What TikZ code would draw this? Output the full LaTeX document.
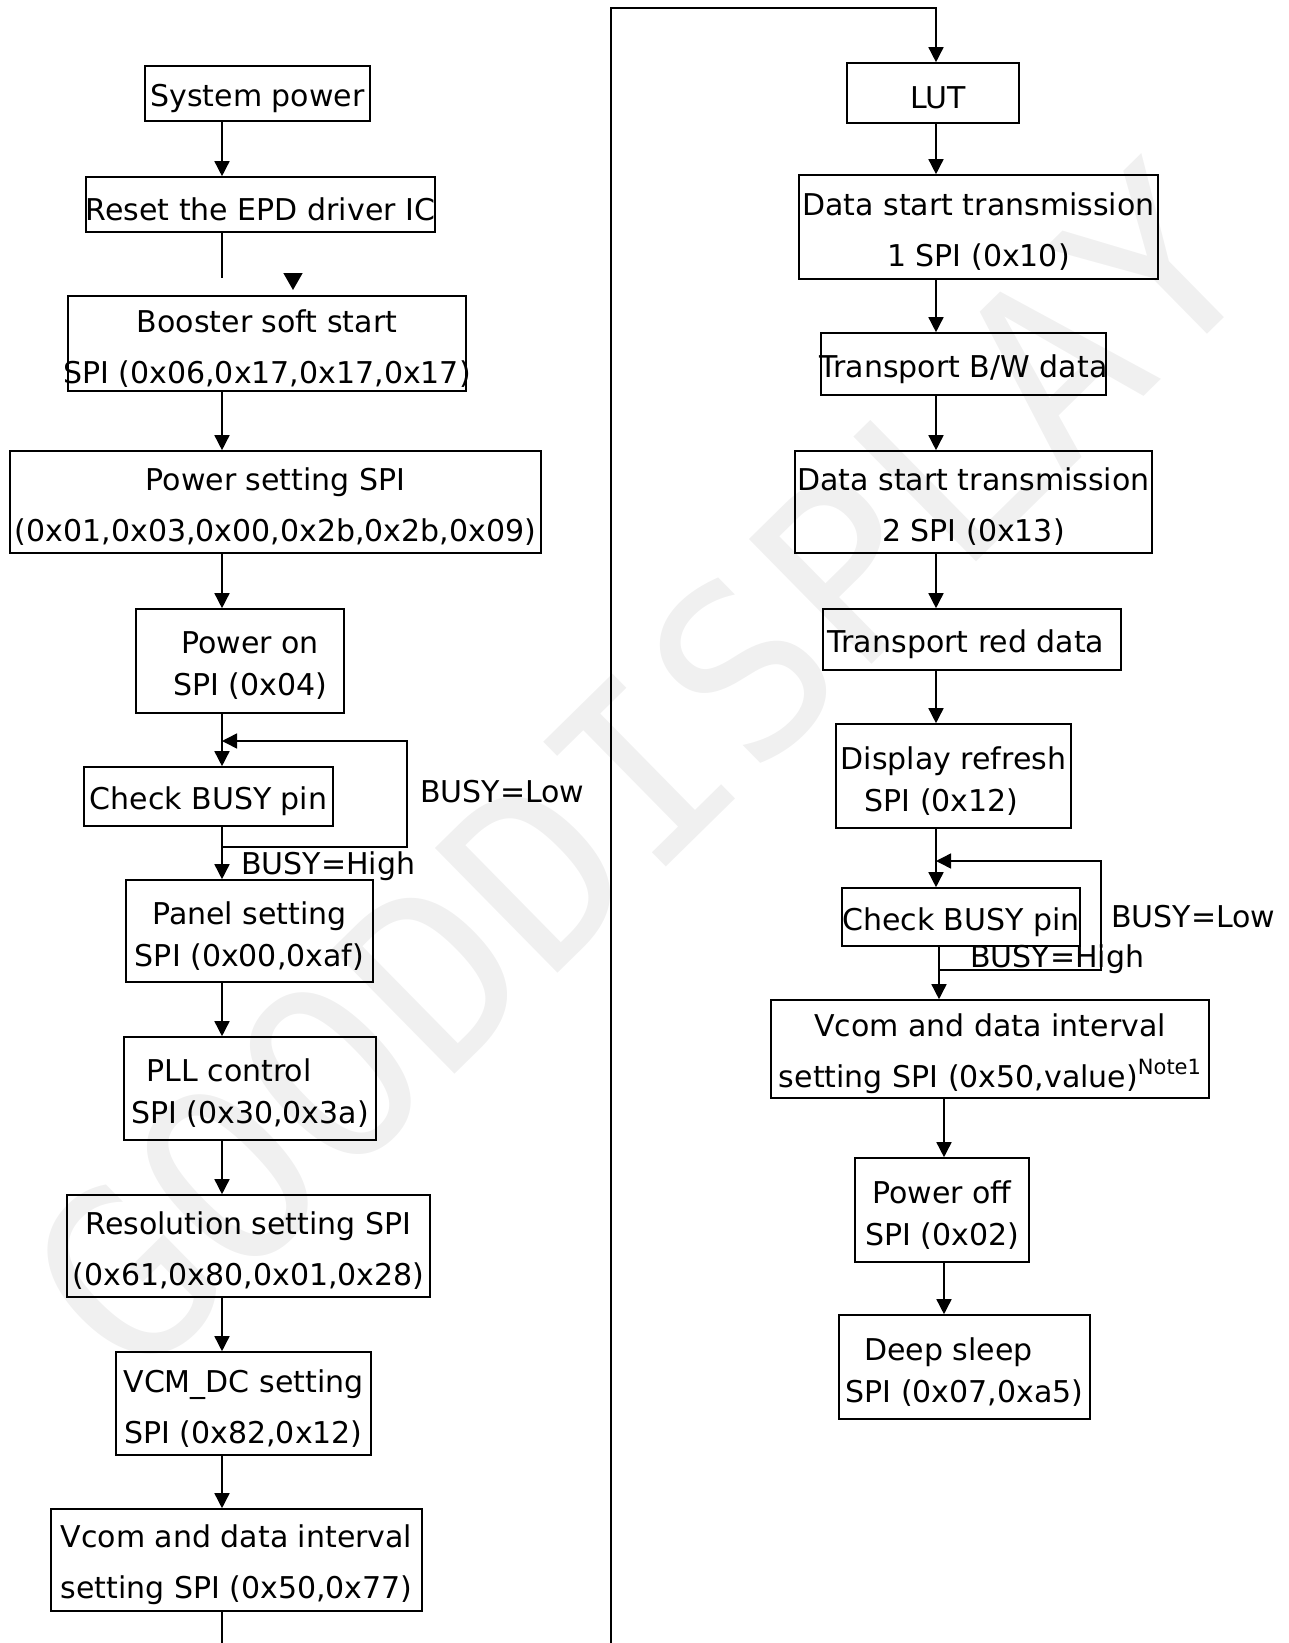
\documentclass[tikz,border=0pt]{standalone}
\usepackage{fontspec}
\setmainfont{DejaVu Sans}
\newfontfamily\wmfont{DejaVu Sans Mono}
\usetikzlibrary{arrows.meta}

\tikzset{
  stepbox/.style={draw, line width=1.6pt, inner sep=0pt},
  steptext/.style={font=\fontsize{30}{51}\selectfont, align=center, inner sep=0pt, yshift=-5pt},
  tighttext/.style={steptext, font=\fontsize{30}{42}\selectfont},
  conn/.style={line width=1.5pt},
  busy/.style={font=\fontsize{30}{36}\selectfont, inner sep=0pt, anchor=west},
  watermark/.style={font=\wmfont\fontsize{240}{240}\selectfont, text=black!6, inner sep=0pt}
}
\newcommand{\notemark}[1]{\raisebox{13pt}{\fontsize{21}{21}\selectfont #1}}

\begin{document}
\begin{tikzpicture}[x=1pt, y=-1pt, >={Triangle[length=15pt, width=15pt]}]
    \useasboundingbox (0,0) rectangle (1288,1643);

    % watermark
    \node[watermark, rotate=44.5] (wm) at (640,770) {GOODDISPLAY};

    % left column
    \node[stepbox, minimum width=225, minimum height=55, label={[steptext]center:System power}] (syspow) at (257.5,93.5) {};
    \node[stepbox, minimum width=349, minimum height=55, label={[steptext]center:Reset the EPD driver IC}] (reset) at (260.5,204.5) {};
    \node[stepbox, minimum width=398, minimum height=95, label={[steptext]center:{Booster soft start\\SPI (0x06,0x17,0x17,0x17)}}] (booster) at (267,343.5) {};
    \node[stepbox, minimum width=531, minimum height=102, label={[steptext]center:{Power setting SPI\\(0x01,0x03,0x00,0x2b,0x2b,0x09)}}] (pwrset) at (275.5,502) {};
    \node[stepbox, minimum width=208, minimum height=104, label={[tighttext, xshift=10]center:{Power on\\SPI (0x04)}}] (pwron) at (240,661) {};
    \node[stepbox, minimum width=249, minimum height=59, label={[steptext]center:Check BUSY pin}] (checkA) at (208.5,796.5) {};
    \node[stepbox, minimum width=247, minimum height=102, label={[tighttext]center:{Panel setting\\SPI (0x00,0xaf)}}] (panel) at (249.5,931) {};
    \node[stepbox, minimum width=252, minimum height=103, label={[tighttext]center:{PLL control\hspace*{42pt}\\SPI (0x30,0x3a)}}] (pll) at (250,1088.5) {};
    \node[stepbox, minimum width=363, minimum height=102, label={[steptext]center:{Resolution setting SPI\\(0x61,0x80,0x01,0x28)}}] (resol) at (248.5,1246) {};
    \node[stepbox, minimum width=255, minimum height=103, label={[steptext]center:{VCM\_DC setting\\SPI (0x82,0x12)}}] (vcmdc) at (243.5,1403.5) {};
    \node[stepbox, minimum width=371, minimum height=102, label={[steptext]center:{Vcom and data interval\\setting SPI (0x50,0x77)}}] (vcomA) at (236.5,1560) {};

    % right column
    \node[stepbox, minimum width=172, minimum height=60, label={[steptext, xshift=5]center:LUT}] (lut) at (933,93) {};
    \node[stepbox, minimum width=359, minimum height=104, label={[steptext]center:{Data start transmission\\1 SPI (0x10)}}] (dst1) at (978.5,227) {};
    \node[stepbox, minimum width=285, minimum height=62, label={[steptext]center:Transport B/W data}] (bwdata) at (963.5,364) {};
    \node[stepbox, minimum width=357, minimum height=102, label={[steptext]center:{Data start transmission\\2 SPI (0x13)}}] (dst2) at (973.5,502) {};
    \node[stepbox, minimum width=298, minimum height=61, label={[steptext, xshift=-6]center:Transport red data}] (reddata) at (972,639.5) {};
    \node[stepbox, minimum width=235, minimum height=104, label={[tighttext]center:{Display refresh\\SPI (0x12)\hspace*{24pt}}}] (refresh) at (953.5,776) {};
    \node[stepbox, minimum width=238, minimum height=58, label={[steptext]center:Check BUSY pin}] (checkB) at (961,917) {};
    \node[stepbox, minimum width=438, minimum height=98, label={[steptext]center:{Vcom and data interval\\setting SPI (0x50,value)\notemark{Note1}}}] (vcomB) at (990,1049) {};
    \node[stepbox, minimum width=174, minimum height=104, label={[tighttext]center:{Power off\\SPI (0x02)}}] (pwroff) at (942,1210) {};
    \node[stepbox, minimum width=251, minimum height=104, label={[tighttext]center:{Deep sleep\hspace*{32pt}\\SPI (0x07,0xa5)}}] (sleep) at (964.5,1367) {};

    % branch labels
    \node[busy] (lowA) at (420,792) {BUSY=Low};
    \node[busy] (highA) at (241,866) {BUSY=High};
    \node[busy] (lowB) at (1111,917) {BUSY=Low};
    \node[busy] (highB) at (970,959) {BUSY=High};

    % connector lines
    \coordinate (colL) at (222,0);
    \coordinate (colR) at (936,0);
    \coordinate (colRc) at (939,0);
    \coordinate (colRb) at (944,0);
    \coordinate (botL) at (222,1643);
    \coordinate (botM) at (611,1643);
    \coordinate (topM) at (611,8);
    \coordinate (topR) at (936,8);

    \draw[conn,->] (syspow.south -| colL) -- (reset.north -| colL);
    % broken arrow under the reset box
    \coordinate (stubend) at (222,278);
    \coordinate (tipA) at (293,273);
    \coordinate (tipB) at (293,290);
    \draw[conn] (reset.south -| colL) -- (stubend);
    \draw[conn,-{Triangle[length=17pt, width=19pt]}] (tipA) -- (tipB);

    \foreach \a/\b in {booster/pwrset, pwrset/pwron, pwron/checkA, checkA/panel, panel/pll, pll/resol, resol/vcmdc, vcmdc/vcomA}
        \draw[conn,->] (\a.south -| colL) -- (\b.north -| colL);
    \draw[conn] (vcomA.south -| colL) -- (botL);

    \draw[conn,->] (botM) -- (topM) -- (topR) -- (lut.north -| topR);
    \foreach \a/\b in {lut/dst1, dst1/bwdata, bwdata/dst2, dst2/reddata, reddata/refresh, refresh/checkB}
        \draw[conn,->] (\a.south -| colR) -- (\b.north -| colR);
    \draw[conn,->] (checkB.south -| colRc) -- (vcomB.north -| colRc);
    \foreach \a/\b in {vcomB/pwroff, pwroff/sleep}
        \draw[conn,->] (\a.south -| colRb) -- (\b.north -| colRb);

    % busy loops
    \coordinate (loopAtop) at (407,741);
    \coordinate (loopAbot) at (407,847);
    \draw[conn,->] (loopAbot -| colL) -- (loopAbot) -- (loopAtop) -- (loopAtop -| colL);
    \coordinate (loopBtop) at (1101,861);
    \coordinate (loopBbot) at (1101,970);
    \draw[conn,->] (loopBbot -| colRc) -- (loopBbot) -- (loopBtop) -- (loopBtop -| colR);
\end{tikzpicture}
\end{document}
